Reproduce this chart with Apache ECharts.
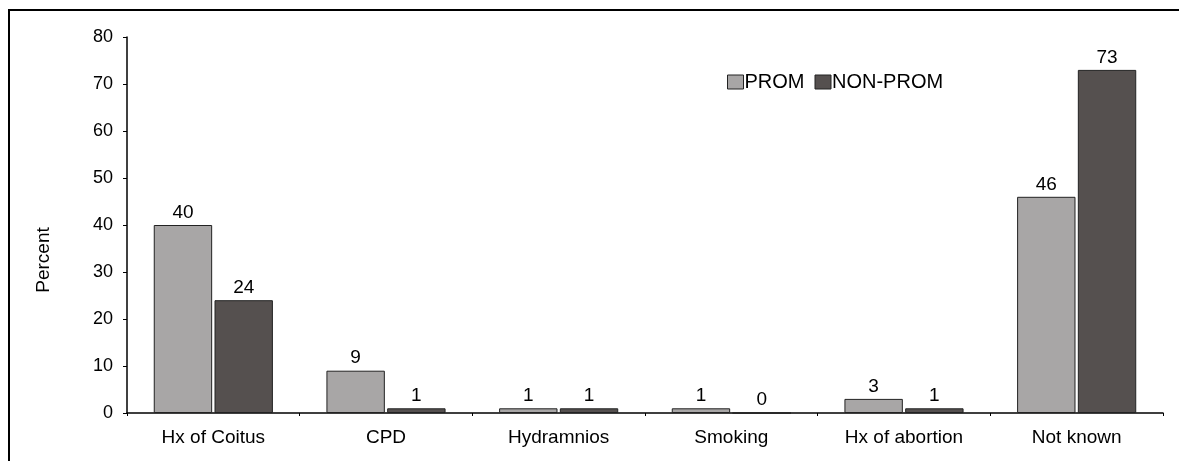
<!DOCTYPE html>
<html>
<head>
<meta charset="utf-8">
<script src="https://cdn.jsdelivr.net/npm/echarts@6/dist/echarts.min.js"></script>
<style>
  html, body { margin: 0; padding: 0; background: #fff; }
  #chart { width: 1179px; height: 461px; }
</style>
</head>
<body>
<div id="chart"></div>
<script>
// categories and values
const categories = ['Hx of Coitus', 'CPD', 'Hydramnios', 'Smoking', 'Hx of abortion', 'Not known']
const prom = [40, 9, 1, 1, 3, 46]
const nonProm = [24, 1, 1, 0, 1, 73]
const yTicks = [0, 10, 20, 30, 40, 50, 60, 70, 80]

const font = 'Liberation Sans, Arial, sans-serif'

const chart = echarts.init(document.getElementById('chart'))

const labelStyle = {
  show: true,
  position: 'top',
  distance: 3,
  color: '#000',
  fontSize: 19,
  fontFamily: font
}

chart.setOption({
  animation: false,
  backgroundColor: '#fff',
  // outer frame (only top and left edges are inside the picture)
  graphic: [{
    type: 'rect',
    shape: {x: 9, y: 10, width: 1400, height: 700},
    style: {fill: 'none', stroke: '#000', lineWidth: 2},
    silent: true
  }],
  legend: {
    data: ['PROM', 'NON-PROM'],
    left: 722,
    top: 67,
    itemWidth: 16,
    itemHeight: 14,
    itemGap: 10,
    icon: 'rect',
    itemStyle: {borderColor: '#222', borderWidth: 1},
    textStyle: {color: '#000', fontSize: 20, fontFamily: font, padding: [0, 0, 0, -4]}
  },
  grid: {
    left: 127,
    right: 16,
    top: 37,
    bottom: 48
  },
  xAxis: {
    type: 'category',
    data: categories,
    axisLine: {lineStyle: {color: '#000', width: 1.5}},
    axisTick: {show: true, length: 3, lineStyle: {color: '#000'}},
    axisLabel: {color: '#000', fontSize: 19, fontFamily: font, margin: 15}
  },
  yAxis: {
    type: 'value',
    min: yTicks[0],
    max: yTicks[yTicks.length - 1],
    interval: 10,
    name: 'Percent',
    nameLocation: 'middle',
    nameGap: 74,
    nameTextStyle: {color: '#000', fontSize: 19, fontFamily: font, padding: [0, 70, 0, 0]},
    axisLine: {show: true, lineStyle: {color: '#000', width: 1.5}},
    axisTick: {show: true, length: 4, lineStyle: {color: '#000'}},
    axisLabel: {color: '#000', fontSize: 18, fontFamily: font, margin: 14},
    splitLine: {show: false}
  },
  series: [
    {
      name: 'PROM',
      type: 'bar',
      data: prom,
      barGap: '4%',
      barCategoryGap: '31%',
      itemStyle: {color: '#a8a6a6', borderColor: '#222', borderWidth: 1},
      label: labelStyle
    },
    {
      name: 'NON-PROM',
      type: 'bar',
      data: nonProm,
      itemStyle: {color: '#55504f', borderColor: '#222', borderWidth: 1},
      label: labelStyle
    }
  ]
})
</script>
</body>
</html>
